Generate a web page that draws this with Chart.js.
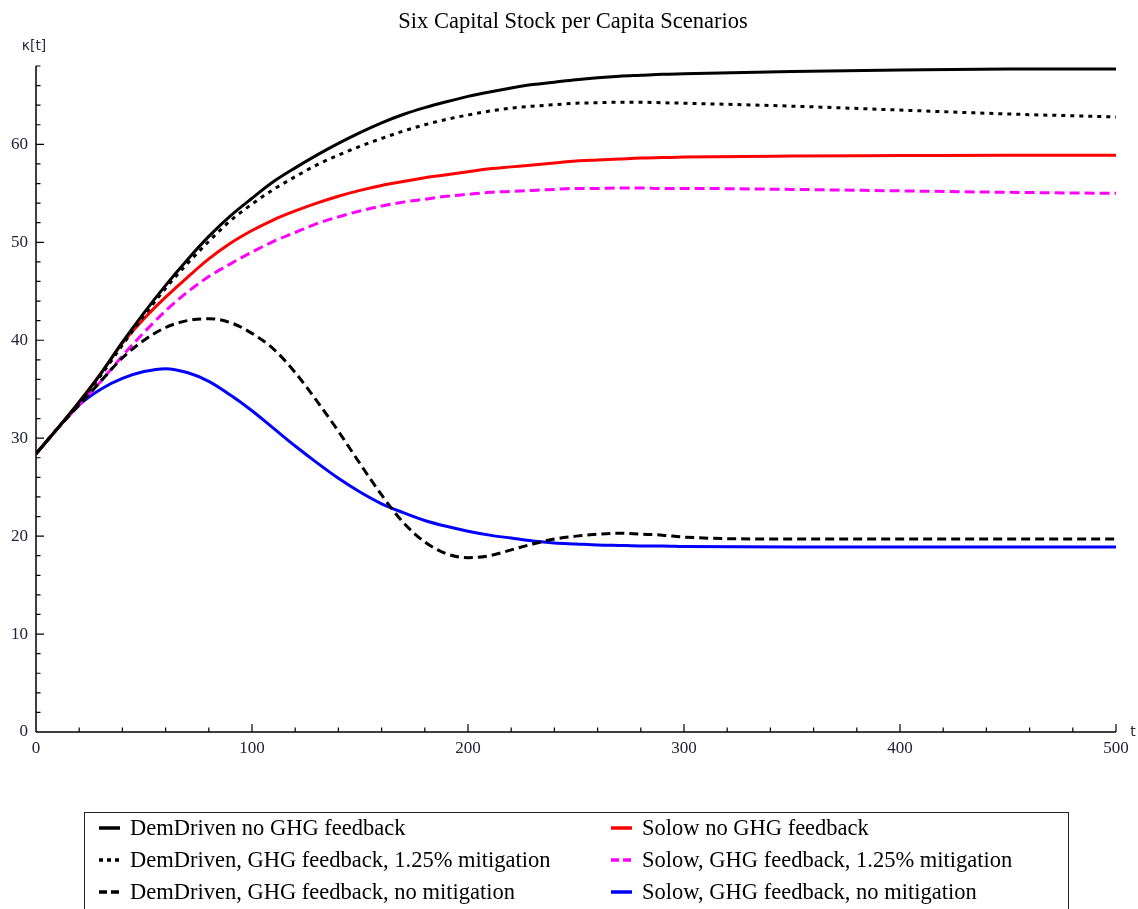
<!DOCTYPE html>
<html>
<head>
<meta charset="utf-8">
<script src="https://cdn.jsdelivr.net/npm/chart.js@4.4.1/dist/chart.umd.min.js"></script>
<style>
  html, body { margin: 0; padding: 0; background: #fff; }
  #wrap { position: relative; width: 1138px; height: 909px; overflow: hidden; }
  #c { position: absolute; left: 0; top: 0; }
  #legend { position: absolute; left: 84px; top: 812px; width: 985px; height: 120px;
            border: 1.5px solid #222; box-sizing: border-box;
            font-family: 'Liberation Serif', 'Times New Roman', serif; font-size: 22.5px; color: #000; }
  .item { position: absolute; height: 32px; display: flex; align-items: center; white-space: nowrap; }
  .item svg { margin-right: 10px; }
</style>
</head>
<body>
<div id="wrap">
  <canvas id="c" width="1138" height="909"></canvas>
  <div id="legend"></div>
</div>
<script>
// ---- data ----
const title = 'Six Capital Stock per Capita Scenarios';
const tValues = [0,10,20,30,40,50,60,70,80,90,100,110,120,130,140,150,160,170,180,190,200,
                 210,220,230,240,250,260,270,280,290,300,350,400,450,500];

const demNoGHG  = [28.4,31.0,33.7,36.6,39.8,42.8,45.6,48.2,50.6,52.7,54.5,56.2,57.6,58.9,60.1,61.2,62.2,63.05,63.75,64.35,64.9,
                   65.35,65.75,66.1,66.35,66.6,66.8,66.95,67.05,67.15,67.2,67.45,67.6,67.7,67.7];
const demMit    = [28.4,31.0,33.6,36.4,39.5,42.5,45.3,47.8,50.1,52.2,53.9,55.4,56.7,57.9,58.9,59.8,60.6,61.35,62.0,62.55,63.0,
                   63.4,63.7,63.9,64.05,64.2,64.25,64.3,64.3,64.25,64.2,63.9,63.5,63.1,62.8];
const demNoMit  = [28.4,31.0,33.4,35.8,38.2,40.0,41.3,42.0,42.2,41.8,40.7,39.1,36.7,33.8,30.7,27.4,24.2,21.4,19.4,18.2,17.8,
                   18.0,18.6,19.2,19.7,20.0,20.2,20.3,20.2,20.1,19.9,19.7,19.7,19.7,19.7];
const solNoGHG  = [28.4,31.0,33.7,36.6,39.7,42.2,44.4,46.4,48.3,49.9,51.2,52.3,53.2,54.0,54.7,55.3,55.8,56.2,56.6,56.9,57.2,
                   57.5,57.7,57.9,58.1,58.3,58.4,58.5,58.6,58.65,58.7,58.8,58.85,58.9,58.9];
const solMit    = [28.4,31.0,33.4,35.8,38.4,40.8,43.0,44.9,46.5,47.8,49.0,50.1,51.0,51.9,52.6,53.2,53.7,54.1,54.4,54.7,54.9,
                   55.1,55.2,55.3,55.4,55.5,55.5,55.55,55.55,55.5,55.5,55.4,55.25,55.1,55.0];
const solNoMit  = [28.4,31.0,33.4,35.0,36.1,36.8,37.1,36.7,35.8,34.4,32.8,31.0,29.2,27.5,25.9,24.5,23.3,22.4,21.6,21.0,20.5,
                   20.1,19.8,19.5,19.3,19.2,19.1,19.05,19.0,19.0,18.95,18.9,18.9,18.9,18.9];

const seriesLabels = ['DemDriven no GHG feedback',
                      'DemDriven, GHG feedback, 1.25% mitigation',
                      'DemDriven, GHG feedback, no mitigation',
                      'Solow no GHG feedback',
                      'Solow, GHG feedback, 1.25% mitigation',
                      'Solow, GHG feedback, no mitigation'];
const xTickLabels = [0, 100, 200, 300, 400, 500];
const yTickLabels = [0, 10, 20, 30, 40, 50, 60];

// ---- styles ----
const colors = ['#000000', '#000000', '#000000', '#ff0000', '#ff00ff', '#0000ff'];
const dashes = [[], [4, 5], [9, 5], [], [10, 5], []];
const legendDashes = [[], [4, 4], [8, 4], [], [8, 4], []];
const allSeries = [demNoGHG, demMit, demNoMit, solNoGHG, solMit, solNoMit];

const datasets = allSeries.map((arr, i) => ({
  label: seriesLabels[i],
  data: tValues.map((t, j) => ({ x: t, y: arr[j] })),
  borderColor: colors[i],
  backgroundColor: colors[i],
  borderWidth: 3,
  borderDash: dashes[i],
  borderCapStyle: 'butt',
  pointRadius: 0,
  fill: false,
  cubicInterpolationMode: 'monotone'
}));

const tickFont = { family: "'Liberation Serif', 'Times New Roman', serif", size: 17 };

const axesPlugin = {
  id: 'mathAxes',
  beforeDatasetsDraw(chart) {
    const ctx = chart.ctx;
    const xs = chart.scales.x, ys = chart.scales.y;
    const x0 = xs.getPixelForValue(0), x1 = xs.getPixelForValue(500);
    const y0 = ys.getPixelForValue(0), y1 = ys.getPixelForValue(68);
    ctx.save();
    ctx.strokeStyle = '#000';
    ctx.lineWidth = 1.5;
    ctx.beginPath();
    ctx.moveTo(x0, y0); ctx.lineTo(x1, y0);
    ctx.moveTo(x0, y0); ctx.lineTo(x0, y1);
    ctx.stroke();
    ctx.lineWidth = 1.2;
    ctx.beginPath();
    for (let v = 20; v <= 500; v += 20) {
      const px = xs.getPixelForValue(v);
      const len = (v % 100 === 0) ? 8 : 4.5;
      ctx.moveTo(px, y0); ctx.lineTo(px, y0 - len);
    }
    for (let v = 2; v <= 68; v += 2) {
      const py = ys.getPixelForValue(v);
      const len = (v % 10 === 0) ? 8 : 4.5;
      ctx.moveTo(x0, py); ctx.lineTo(x0 + len, py);
    }
    ctx.stroke();
    // axis labels
    ctx.fillStyle = '#2a2a3a';
    ctx.font = "14px 'DejaVu Sans', sans-serif";
    ctx.textAlign = 'center';
    ctx.textBaseline = 'middle';
    ctx.fillText('\u03BA[t]', 34, 46);
    ctx.fillText('t', x1 + 17, y0);
    // title, centred over the plot
    ctx.fillStyle = '#000';
    ctx.font = "22.5px 'Liberation Serif', 'Times New Roman', serif";
    ctx.fillText(title, 573, 22);
    ctx.restore();
  }
};

new Chart(document.getElementById('c'), {
  type: 'line',
  data: { datasets },
  options: {
    responsive: false,
    animation: false,
    devicePixelRatio: 1,
    layout: { padding: { left: 0, right: 22, top: 66, bottom: 137 } },
    plugins: {
      legend: { display: false },
      tooltip: { enabled: false },
      title: { display: false }
    },
    scales: {
      x: {
        type: 'linear', min: 0, max: 500,
        grid: { display: false, drawTicks: false },
        border: { display: false },
        ticks: { stepSize: 100, padding: 6, color: '#22223a', font: tickFont, maxRotation: 0,
                 callback: v => xTickLabels.includes(v) ? String(v) : '' },
        afterFit(s) { s.height = 40; }
      },
      y: {
        type: 'linear', min: 0, max: 68,
        grid: { display: false, drawTicks: false },
        border: { display: false },
        ticks: { stepSize: 10, padding: 8, color: '#22223a', font: tickFont,
                 callback: v => yTickLabels.includes(v) ? String(v) : '' },
        afterFit(s) { s.width = 36; }
      }
    }
  },
  plugins: [axesPlugin]
});

// ---- legend (two columns, as in the reference) ----
const legend = document.getElementById('legend');
const order = [0, 3, 1, 4, 2, 5];
order.forEach((idx, k) => {
  const row = Math.floor(k / 2), col = k % 2;
  const div = document.createElement('div');
  div.className = 'item';
  div.style.left = (col === 0 ? 14 : 526) + 'px';
  div.style.top = (row * 32 - 1) + 'px';
  const svg = document.createElementNS('http://www.w3.org/2000/svg', 'svg');
  svg.setAttribute('width', '21'); svg.setAttribute('height', '8');
  const line = document.createElementNS('http://www.w3.org/2000/svg', 'line');
  line.setAttribute('x1', '0'); line.setAttribute('x2', '21');
  line.setAttribute('y1', '4'); line.setAttribute('y2', '4');
  line.setAttribute('stroke', colors[idx]);
  line.setAttribute('stroke-width', '3.5');
  if (legendDashes[idx].length) line.setAttribute('stroke-dasharray', legendDashes[idx].join(','));
  svg.appendChild(line);
  div.appendChild(svg);
  const span = document.createElement('span');
  span.textContent = seriesLabels[idx];
  div.appendChild(span);
  legend.appendChild(div);
});
</script>
</body>
</html>
